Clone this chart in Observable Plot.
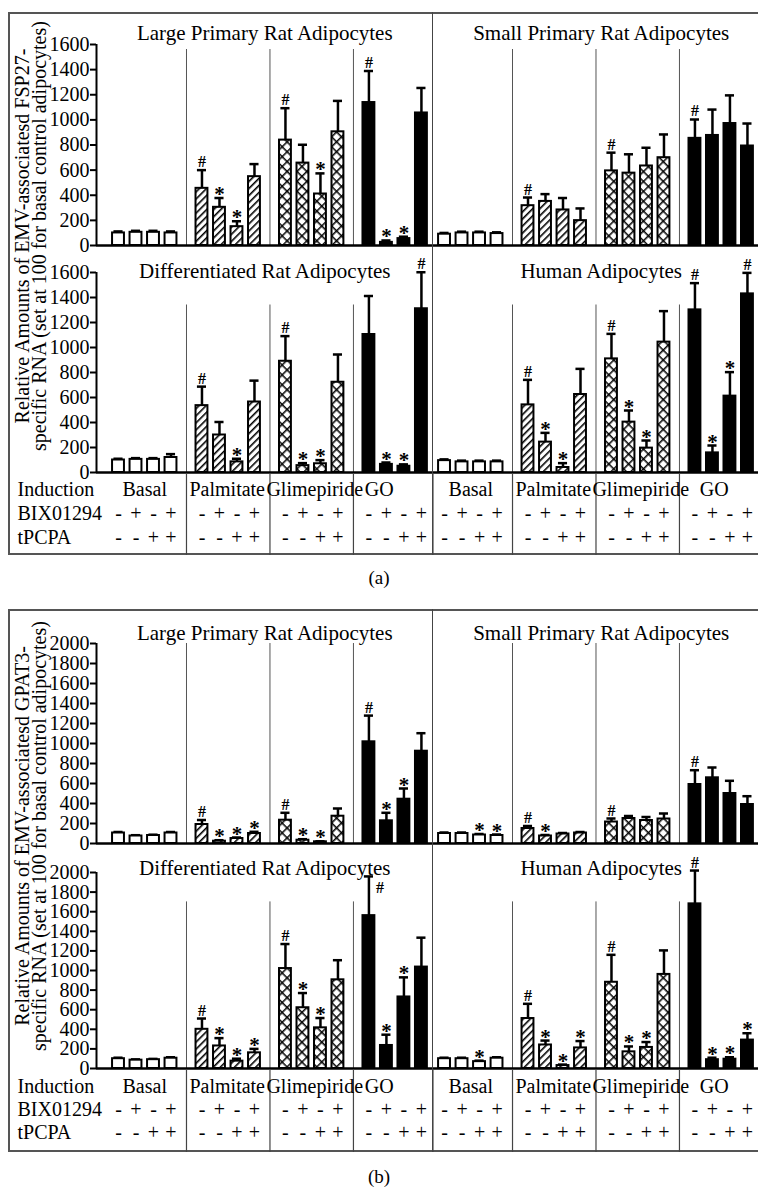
<!DOCTYPE html>
<html><head><meta charset="utf-8">
<script src="https://cdn.jsdelivr.net/npm/d3@7"></script>
<script src="https://cdn.jsdelivr.net/npm/@observablehq/plot@0.6"></script>
<style>
html,body{margin:0;padding:0;background:#fff;overflow:hidden;}
#page{position:relative;width:758px;height:1192px;overflow:hidden;font-family:"Liberation Serif","Times New Roman",serif;color:#000;background:#fff;}
.box{position:absolute;border:2px solid #555;box-sizing:border-box;}
.vline{position:absolute;width:0;border-left:1.5px solid #444;}
.ylab{position:absolute;transform:rotate(-90deg);transform-origin:50% 50%;text-align:center;font-size:20px;line-height:17px;white-space:nowrap;}
.cap{position:absolute;font-size:19px;width:60px;text-align:center;}
</style></head><body>
<svg width="0" height="0" style="position:absolute">
<defs>
<pattern id="diag" patternUnits="userSpaceOnUse" width="5" height="5" patternTransform="rotate(45)"><rect width="5" height="5" fill="white"/><line x1="0.8" y1="0" x2="0.8" y2="5" stroke="black" stroke-width="1.6"/></pattern>
<pattern id="cross" patternUnits="userSpaceOnUse" width="7" height="7" patternTransform="rotate(45)"><rect width="7" height="7" fill="white"/><line x1="0.8" y1="0" x2="0.8" y2="7" stroke="black" stroke-width="1.5"/><line x1="0" y1="0.8" x2="7" y2="0.8" stroke="black" stroke-width="1.5"/></pattern>
</defs></svg>
<div id="page"></div>
<script>
// ---------- data ----------
const inductions = ["Basal", "Palmitate", "Glimepiride", "GO"];
const bixSigns = ["-", "+", "-", "+"];
const tpcpaSigns = ["-", "-", "+", "+"];
const tableRows = ["Induction", "BIX01294", "tPCPA"];
const panelTitles = ["Large Primary Rat Adipocytes", "Small Primary Rat Adipocytes", "Differentiated Rat Adipocytes", "Human Adipocytes"];

// (a) FSP27
const fspLargeMean = [100,105,105,100, 455,304,150,548, 839,656,410,905, 1138,25,55,1055];
const fspLargeErr  = [12,12,12,12, 145,74,43,100, 254,146,164,246, 251,15,15,199];
const fspLargeSig  = ["","","","", "#","*","*","", "#","","*","", "#","*","*",""];
const fspSmallMean = [90,100,100,95, 317,351,283,198, 594,576,633,699, 853,876,971,792];
const fspSmallErr  = [10,10,10,10, 65,58,95,97, 145,150,145,185, 150,206,224,179];
const fspSmallSig  = ["","","","", "#","","","", "#","","","", "#","","",""];
const fspDiffMean  = [100,105,105,120, 535,300,85,564, 890,55,70,722, 1104,65,50,1310];
const fspDiffErr   = [10,10,10,27, 152,104,25,171, 201,20,29,222, 308,15,15,292];
const fspDiffSig   = ["","","","", "#","","*","", "#","*","*","", "","*","*","#"];
const fspHumanMean = [95,85,85,85, 541,243,40,624, 909,403,195,1043, 1301,157,611,1429];
const fspHumanErr  = [10,10,10,10, 200,74,35,205, 200,93,61,248, 214,59,192,168];
const fspHumanSig  = ["","","","", "#","*","*","", "#","*","*","", "#","*","*","#"];

// (b) GPAT3
const gpatLargeMean = [105,75,80,105, 190,23,50,100, 233,33,17,273, 1017,227,443,923];
const gpatLargeErr  = [10,8,8,10, 45,10,10,17, 74,10,5,77, 262,80,107,180];
const gpatLargeSig  = ["","","","", "#","*","*","*", "#","*","*","", "#","*","*",""];
const gpatSmallMean = [100,100,85,80, 150,75,95,105, 215,250,230,245, 590,657,500,390];
const gpatSmallErr  = [10,10,10,10, 25,10,10,10, 35,25,35,55, 143,103,127,83];
const gpatSmallSig  = ["","","*","*", "#","*","","", "#","","","", "#","","",""];
const gpatDiffMean  = [100,85,90,105, 400,230,75,160, 1020,620,415,905, 1560,235,730,1035];
const gpatDiffErr   = [10,8,8,10, 110,80,25,40, 250,150,100,200, 400,110,200,300];
const gpatDiffSig   = ["","","","", "#","*","*","*", "#","*","*","", "#","*","*",""];
const gpatHumanMean = [100,100,70,105, 510,240,30,210, 880,170,215,960, 1680,90,95,290];
const gpatHumanErr  = [10,10,10,10, 150,45,10,70, 280,55,55,245, 340,20,20,70];
const gpatHumanSig  = ["","","*","", "#","*","*","*", "#","*","*","", "#","*","*","*"];

const yLabelA = ["Relative Amounts of EMV-associatesd FSP27-", "specific RNA (set at 100 for basal control adipocytes)"];
const yLabelB = ["Relative Amounts of EMV-associatesd GPAT3-", "specific RNA (set at 100 for basal control adipocytes)"];

const figures = [
  {id: "a", caption: "(a)", yMax: 1600, yLabel: yLabelA, beside: [],
   panels: [[fspLargeMean, fspLargeErr, fspLargeSig], [fspSmallMean, fspSmallErr, fspSmallSig],
            [fspDiffMean, fspDiffErr, fspDiffSig], [fspHumanMean, fspHumanErr, fspHumanSig]]},
  {id: "b", caption: "(b)", yMax: 2000, yLabel: yLabelB, beside: [[2, 12]],
   panels: [[gpatLargeMean, gpatLargeErr, gpatLargeSig], [gpatSmallMean, gpatSmallErr, gpatSmallSig],
            [gpatDiffMean, gpatDiffErr, gpatDiffSig], [gpatHumanMean, gpatHumanErr, gpatHumanSig]]}
];

// ---------- layout ----------
const FONT = '"Liberation Serif","Times New Roman",serif';
const WIDTH = 758, AXIS_PX = 96, FIRST_BAR_PX = 118, PX_PER_UNIT = 17.5;
const GROUP_STEP = 4.77, PANEL_STEP = 18.63, HW = 0.34, CAP = 0.26;
const X_DOMAIN = [(AXIS_PX - FIRST_BAR_PX) / PX_PER_UNIT, (WIDTH - FIRST_BAR_PX) / PX_PER_UNIT];
const fills = ["white", "url(#diag)", "url(#cross)", "black"];

const layouts = {
  a: {boxTop: 12, boxBottom: 555, ylabCenter: 236, captionY: 578,
      rows: [{svgTop: 12, mt: 32, plotH: 201, mb: 2, titleDy: -19, sepTop: 1560},
             {svgTop: 250, mt: 22, plotH: 200, mb: 3, titleDy: -9, sepTop: 1340}],
      tableTop: 473, tableH: 82, tableY: [16, 64]},
  b: {boxTop: 609, boxBottom: 1152, ylabCenter: 836, captionY: 1177,
      rows: [{svgTop: 609, mt: 34, plotH: 200, mb: 2, titleDy: -18, sepTop: 2000},
             {svgTop: 848, mt: 24, plotH: 196, mb: 3, titleDy: -12, sepTop: 1700}],
      tableTop: 1069, tableH: 83, tableY: [16, 63]}
};
// horizontal nudges of the induction names in the table, per panel column
const labelDx = {Basal: [0, 0], Palmitate: [-1, -1], Glimepiride: [3, 3], GO: [-16, -7]};

const groupSeps = [];
for (const col of [0, 1]) for (const g of [0, 1, 2]) groupSeps.push(col * PANEL_STEP + g * GROUP_STEP + 3 + (GROUP_STEP - 3) / 2);
const divider = (3 * GROUP_STEP + 3 + PANEL_STEP) / 2;
const panelCenters = [(X_DOMAIN[0] + divider) / 2, divider + (divider - X_DOMAIN[0]) / 2];

const page = document.getElementById("page");
function place(node, top) {
  const d = document.createElement("div");
  d.style.position = "absolute"; d.style.left = "0px"; d.style.top = top + "px";
  d.appendChild(node); page.appendChild(d);
}
const svgStyle = {overflow: "visible", background: "transparent", maxWidth: "none", fontFamily: FONT, color: "black"};

for (const fig of figures) {
  const L = layouts[fig.id];
  const box = document.createElement("div");
  box.className = "box";
  box.style.left = "8px"; box.style.top = L.boxTop + "px";
  box.style.width = "770px"; box.style.height = (L.boxBottom - L.boxTop) + "px";
  page.appendChild(box);

  let xScale;
  L.rows.forEach((R, rowIdx) => {
    const bars = [];
    for (let col = 0; col < 2; col++) {
      const pIdx = rowIdx * 2 + col;
      const [mean, err, sig] = fig.panels[pIdx];
      for (let g = 0; g < 4; g++) for (let b = 0; b < 4; b++) {
        const i = g * 4 + b;
        bars.push({pos: col * PANEL_STEP + g * GROUP_STEP + b, induction: inductions[g],
          mean: mean[i], err: err[i], sig: sig[i],
          beside: fig.beside.some(([p, k]) => p === pIdx && k === i)});
      }
    }
    const titles = [0, 1].map(col => ({title: panelTitles[rowIdx * 2 + col], center: panelCenters[col]}));
    const top = d => d.mean + d.err;
    const plot = Plot.plot({
      width: WIDTH, height: R.mt + R.plotH + R.mb,
      marginLeft: AXIS_PX, marginRight: 0, marginTop: R.mt, marginBottom: R.mb,
      x: {domain: X_DOMAIN, axis: null},
      y: {domain: [0, fig.yMax], axis: null, label: null},
      color: {type: "ordinal", domain: inductions, range: fills},
      style: svgStyle,
      marks: [
        Plot.ruleX(groupSeps, {x: d => d, y1: () => 0, y2: () => R.sepTop, stroke: "#555", strokeWidth: 1}),
        Plot.ruleX(bars, {x: "pos", y1: "mean", y2: top, stroke: "black", strokeWidth: 2.5}),
        Plot.ruleY(bars, {y: top, x1: d => d.pos - CAP, x2: d => d.pos + CAP, stroke: "black", strokeWidth: 2.5}),
        Plot.rect(bars, {x1: d => d.pos - HW, x2: d => d.pos + HW, y1: () => 0, y2: "mean", fill: "induction", stroke: "black", strokeWidth: 2}),
        Plot.ruleY([0], {stroke: "black", strokeWidth: 2.5}),
        Plot.ruleX([X_DOMAIN[0]], {y1: () => 0, y2: () => fig.yMax, stroke: "black", strokeWidth: 2}),
        Plot.axisY({ticks: d3.range(0, fig.yMax + 1, 200), tickFormat: d3.format("d"), tickSize: 6, tickPadding: 1, fontSize: 20, strokeWidth: 2, label: null}),
        Plot.text(bars.filter(d => d.sig === "#" && !d.beside), {x: "pos", y: top, text: "sig", lineAnchor: "bottom", dy: -3, fontSize: 16, fontWeight: "bold"}),
        Plot.text(bars.filter(d => d.sig === "#" && d.beside), {x: "pos", y: top, text: "sig", lineAnchor: "middle", dx: 11, dy: 11, fontSize: 16, fontWeight: "bold"}),
        Plot.text(bars.filter(d => d.sig === "*"), {x: "pos", y: top, text: "sig", lineAnchor: "bottom", dy: 3, fontSize: 21, fontWeight: "bold"}),
        Plot.text(titles, {x: "center", frameAnchor: "top", dy: R.titleDy, text: "title", fontSize: 21})
      ]
    });
    if (!xScale) xScale = plot.scale("x");
    place(plot, R.svgTop);
  });

  // table
  const signs = [];
  for (let col = 0; col < 2; col++) for (let g = 0; g < 4; g++) for (let b = 0; b < 4; b++)
    signs.push({pos: col * PANEL_STEP + g * GROUP_STEP + b, bix: bixSigns[b], tp: tpcpaSigns[b]});
  const labelMarks = [];
  for (let col = 0; col < 2; col++) inductions.forEach((name, g) =>
    labelMarks.push(Plot.text([{name, center: col * PANEL_STEP + g * GROUP_STEP + 1.5}],
      {x: "center", y: () => "Induction", text: "name", dx: labelDx[name][col], fontSize: 20})));
  const table = Plot.plot({
    width: WIDTH, height: L.tableH,
    marginLeft: AXIS_PX, marginRight: 0, marginTop: 0, marginBottom: 0,
    x: {domain: X_DOMAIN, axis: null},
    y: {type: "point", domain: tableRows, range: L.tableY, padding: 0, axis: null},
    style: svgStyle,
    marks: [
      Plot.ruleX([...groupSeps, divider], {stroke: "#444", strokeWidth: 1.2}),
      Plot.text(tableRows, {y: d => d, text: d => d, frameAnchor: "left", textAnchor: "start", dx: 17 - AXIS_PX, fontSize: 20}),
      ...labelMarks,
      Plot.text(signs, {x: "pos", y: () => "BIX01294", text: "bix", fontSize: 20}),
      Plot.text(signs, {x: "pos", y: () => "tPCPA", text: "tp", fontSize: 20})
    ]
  });
  place(table, L.tableTop);

  const vx = xScale.apply(divider);
  const v = document.createElement("div");
  v.className = "vline";
  v.style.left = (vx - 0.75) + "px"; v.style.top = L.boxTop + "px";
  v.style.height = (L.boxBottom - L.boxTop) + "px";
  page.appendChild(v);

  const yl = document.createElement("div");
  yl.className = "ylab";
  const W = 480, H = 34;
  yl.style.width = W + "px"; yl.style.height = H + "px";
  yl.style.left = (31 - W / 2) + "px"; yl.style.top = (L.ylabCenter - H / 2) + "px";
  yl.innerHTML = fig.yLabel.join("<br>");
  page.appendChild(yl);

  const cap = document.createElement("div");
  cap.className = "cap";
  cap.style.left = (379 - 30) + "px"; cap.style.top = (L.captionY - 11) + "px";
  cap.textContent = fig.caption;
  page.appendChild(cap);
}
</script>
</body></html>
